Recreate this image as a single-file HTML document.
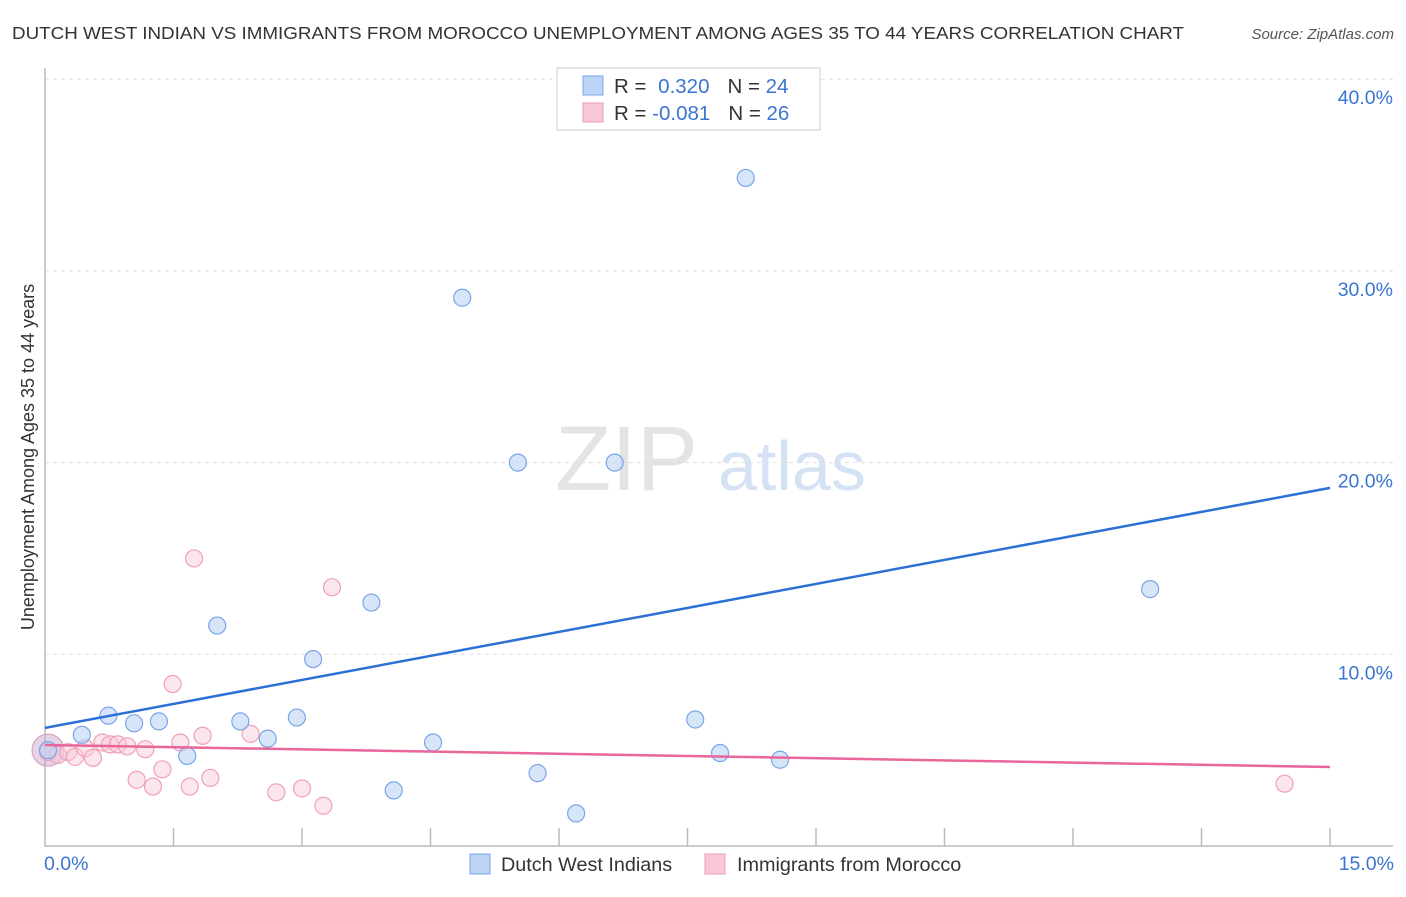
<!DOCTYPE html>
<html><head><meta charset="utf-8"><style>
body{margin:0;background:#fff;font-family:"Liberation Sans",sans-serif}
svg text{font-family:"Liberation Sans",sans-serif}
</style></head><body>
<svg id="chart" width="1406" height="892" xmlns="http://www.w3.org/2000/svg">
<text x="12" y="39" font-size="17.5" fill="#333" textLength="1172" lengthAdjust="spacingAndGlyphs">DUTCH WEST INDIAN VS IMMIGRANTS FROM MOROCCO UNEMPLOYMENT AMONG AGES 35 TO 44 YEARS CORRELATION CHART</text>
<text x="1394" y="39" font-size="15" fill="#555" text-anchor="end" font-style="italic">Source: ZipAtlas.com</text>
<g>
<text x="555" y="490" font-size="92" fill="#e4e4e4" font-family="Liberation Serif">ZIP</text>
<text x="718" y="490" font-size="70" fill="#d5e2f3">atlas</text>
</g>
<g id="grid"></g>
<g id="axes"></g>
<text transform="translate(34,457) rotate(-90)" font-size="18" fill="#333" text-anchor="middle">Unemployment Among Ages 35 to 44 years</text>
<g id="marks"></g>
<g>
<rect x="557" y="68" width="263" height="62" fill="#fff" stroke="#ccc"/>
<rect x="583" y="76" width="20" height="19" fill="#bcd4f5" stroke="#7aa5e6"/>
<rect x="583" y="103" width="20" height="19" fill="#f9c8d7" stroke="#ee9bb5"/>
<text x="614" y="93" font-size="20.5" fill="#333">R = <tspan fill="#3a75d0" dx="6">0.320</tspan><tspan dx="18" fill="#333">N = </tspan><tspan fill="#3a75d0">24</tspan></text>
<text x="614" y="120" font-size="20.5" fill="#333">R = <tspan fill="#3a75d0">-0.081</tspan><tspan dx="18" fill="#333">N = </tspan><tspan fill="#3a75d0">26</tspan></text>
</g>
<g>
<rect x="470" y="854" width="20" height="20" fill="#bcd4f5" stroke="#7aa5e6"/>
<text x="501" y="871" font-size="19.8" fill="#333">Dutch West Indians</text>
<rect x="705" y="854" width="20" height="20" fill="#f9c8d7" stroke="#ee9bb5"/>
<text x="737" y="871" font-size="19.8" fill="#333">Immigrants from Morocco</text>
</g>
</svg>
<script>
const yTicks=[10,20,30,40];
const yTickLabels=["10.0%","20.0%","30.0%","40.0%"];
const xTickLabels=["0.0%","15.0%"];
const blueX=[0.035,0.43,0.74,1.04,1.33,1.66,2.01,2.28,2.60,2.94,3.13,3.81,4.07,4.53,4.87,5.52,5.75,6.20,6.65,7.59,7.88,8.18,8.58,12.90];
const blueY=[5.0,5.8,6.8,6.4,6.5,4.7,11.5,6.5,5.6,6.7,9.75,12.7,2.9,5.4,28.6,20.0,3.8,1.7,20.0,6.6,4.85,34.85,4.5,13.4];
const pinkX=[0.035,0.15,0.27,0.35,0.47,0.56,0.67,0.76,0.85,0.96,1.07,1.17,1.26,1.37,1.49,1.58,1.69,1.74,1.84,1.93,2.40,2.70,3.00,3.25,3.35,14.47];
const pinkY=[4.9,4.75,4.9,4.65,5.1,4.6,5.4,5.3,5.3,5.2,3.45,5.05,3.1,4.0,8.45,5.4,3.1,15.0,5.75,3.55,5.85,2.8,3.0,2.1,13.5,3.25];
const blueTrend=[6.16,18.68];
const pinkTrend=[5.27,4.12];
const NS="http://www.w3.org/2000/svg";
const X=v=>45+v/15*1285, Y=v=>846-v*19.17;
function mk(p,t,a){const e=document.createElementNS(NS,t);for(const k in a)e.setAttribute(k,a[k]);document.getElementById(p).appendChild(e);return e;}
yTicks.forEach((t,i)=>{
 const g=mk('grid','line',{x1:45,x2:1393,y1:Y(t),y2:Y(t),stroke:'#ddd','stroke-dasharray':'4,4'});
 
 
 const l=mk('grid','text',{x:1393,y:Y(t)+25,'font-size':19.5,fill:'#3a75d0','text-anchor':'end'});
 l.textContent=yTickLabels[i];
 
 
});
const ax=mk('axes','path',{d:'M45,68V846H1393',fill:'none',stroke:'#bbb','stroke-width':1.5});


for(let i=1;i<=10;i++){
 const t=mk('axes','line',{x1:X(i*1.5),x2:X(i*1.5),y1:828,y2:846,stroke:'#bbb','stroke-width':1.5});
 
 
}
[[0,'start',44],[15,'end',1394]].forEach((d,i)=>{
 const l=mk('axes','text',{x:d[2],y:870,'font-size':19.5,fill:'#3a75d0','text-anchor':d[1]});
 l.textContent=xTickLabels[i];
 
 
});
const bb=mk('marks','circle',{cx:X(blueX[0]),cy:Y(blueY[0]),r:16,fill:'rgba(200,170,210,0.5)',stroke:'#d89ab5'});


pinkX.forEach((x,i)=>{
 const c=mk('marks','circle',{cx:X(x),cy:Y(pinkY[i]),r:8.5,fill:'rgba(249,200,215,0.45)',stroke:'#f0a0b9','stroke-width':1.2});
 
 
});
blueX.forEach((x,i)=>{
 const c=mk('marks','circle',{cx:X(x),cy:Y(blueY[i]),r:8.5,fill:'rgba(188,212,245,0.6)',stroke:'#7aa5e6','stroke-width':1.2});
 
 
});
const tb=mk('marks','line',{x1:X(0),y1:Y(blueTrend[0]),x2:X(15),y2:Y(blueTrend[1]),stroke:'#2c6fd6','stroke-width':2.5});


const tp=mk('marks','line',{x1:X(0),y1:Y(pinkTrend[0]),x2:X(15),y2:Y(pinkTrend[1]),stroke:'#e8669a','stroke-width':2.5});


</script>
</body></html>
